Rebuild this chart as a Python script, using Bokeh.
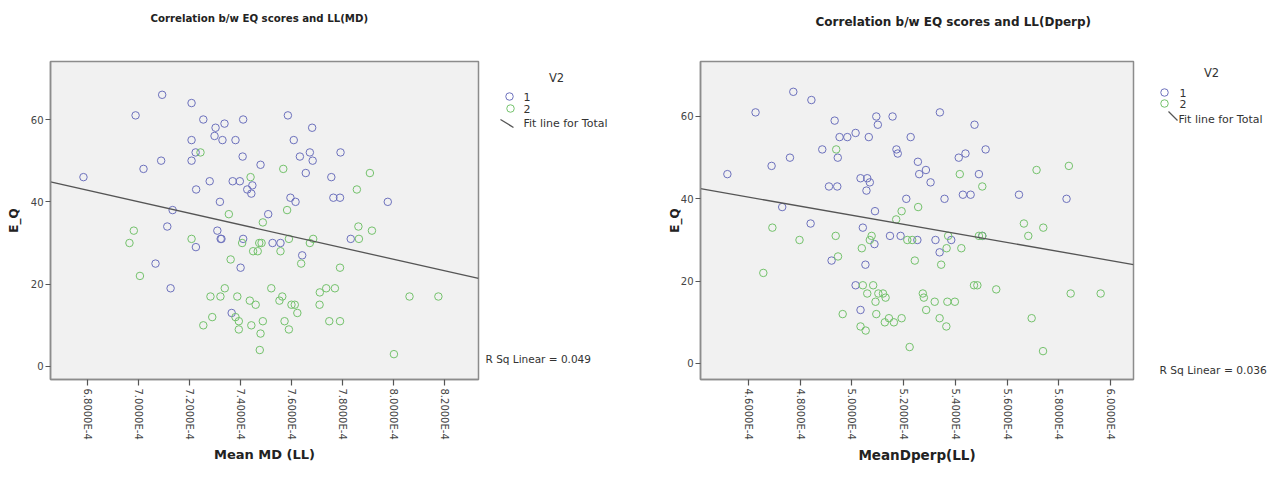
import math
from bokeh.plotting import figure
from bokeh.layouts import row
from bokeh.models import Range1d, FixedTicker, CustomJSTickFormatter, Title
from bokeh.core.properties import value
from bokeh.embed import file_html
from bokeh.resources import INLINE

# ---------------- data (x values in units of 1E-4) ----------------
# Left chart: Mean MD (LL) vs E_Q
md_g1_x = [7.094, 7.209, 6.99, 7.255, 7.411, 7.586, 7.303, 7.338, 7.681, 7.299,
           7.33, 7.381, 7.209, 7.609, 7.225, 7.672, 7.792, 7.09, 7.209, 7.409,
           7.633, 7.683, 7.021, 7.479, 7.656, 6.786, 7.28, 7.37, 7.398, 7.447,
           7.427, 7.443, 7.756, 7.227, 7.32, 7.596, 7.616, 7.764, 7.79, 7.135,
           7.509, 7.114, 7.31, 7.323, 7.326, 7.226, 7.411, 7.526, 7.557, 7.642,
           7.068, 7.832, 7.977, 7.401, 7.127, 7.366]
md_g1_y = [66, 64, 61, 60, 60, 61, 58, 59, 58, 56,
           55, 55, 55, 55, 52, 52, 52, 50, 50, 51,
           51, 50, 48, 49, 47, 46, 45, 45, 45, 44,
           43, 42, 46, 43, 40, 41, 40, 41, 41, 38,
           37, 34, 33, 31, 31, 29, 31, 30, 30, 27,
           25, 31, 40, 24, 19, 13]
md_g2_x = [7.244, 7.568, 7.856, 7.44, 7.355, 7.583, 7.488, 6.983, 6.966, 7.209,
           7.407, 7.474, 7.483, 7.45, 7.468, 7.557, 7.59, 7.672, 7.685, 7.862,
           7.864, 7.362, 7.907, 7.915, 7.638, 7.79, 7.007, 7.339, 7.521, 7.283,
           7.322, 7.388, 7.564, 7.553, 7.437, 7.46, 7.6, 7.613, 7.623, 7.711,
           7.736, 7.77, 7.71, 7.381, 7.394, 7.29, 7.255, 7.394, 7.443, 7.488,
           7.479, 7.573, 7.59, 7.748, 7.79, 7.476, 8.062, 8.175, 8.001]
md_g2_y = [52, 48, 43, 46, 37, 38, 35, 33, 30, 31,
           30, 30, 30, 28, 28, 28, 31, 30, 31, 34,
           31, 26, 47, 33, 25, 24, 22, 19, 19, 17,
           17, 17, 17, 16, 16, 15, 15, 15, 13, 18,
           19, 19, 15, 12, 11, 12, 10, 9, 10, 11,
           8, 11, 9, 11, 11, 4, 17, 17, 3]
md_fit = {"intercept": 138.04, "slope": -14.0}
md_rsq = "R Sq Linear = 0.049"

# Right chart: MeanDperp(LL) vs E_Q
dp_g1_x = [4.773, 4.843, 4.627, 4.933, 5.094, 5.1, 5.157, 5.34, 5.474, 4.952,
           4.982, 5.014, 5.065, 5.227, 4.885, 4.945, 5.172, 5.177, 4.76, 4.689,
           4.518, 5.517, 5.413, 5.439, 5.255, 5.286, 5.26, 5.491, 5.033, 5.059,
           5.069, 5.056, 4.911, 4.943, 5.304, 5.21, 5.358, 5.429, 5.459, 4.73,
           5.089, 5.646, 4.84, 5.042, 5.147, 5.188, 5.253, 5.323, 5.384, 5.087,
           5.339, 5.504, 5.83, 4.921, 5.052, 5.014, 5.033]
dp_g1_y = [66, 64, 61, 59, 60, 58, 60, 61, 58, 55,
           55, 56, 55, 55, 52, 50, 52, 51, 50, 48,
           46, 52, 50, 51, 49, 47, 46, 46, 45, 45,
           44, 42, 43, 43, 44, 40, 40, 41, 41, 38,
           37, 41, 34, 33, 31, 31, 30, 30, 30, 29,
           27, 31, 40, 25, 24, 19, 13]
dp_g2_x = [4.939, 5.417, 5.504, 5.256, 5.192, 5.171, 4.692, 4.797, 4.937, 5.076,
           5.069, 5.214, 5.233, 5.372, 5.038, 5.366, 5.423, 4.946, 5.714, 5.839,
           5.665, 5.74, 5.682, 5.491, 5.243, 5.345, 4.657, 5.042, 5.082, 5.059,
           5.102, 5.12, 5.13, 5.091, 5.274, 5.278, 5.32, 5.369, 5.398, 5.287,
           4.964, 5.094, 5.127, 5.143, 5.162, 5.192, 5.033, 5.053, 5.339, 5.365,
           5.223, 5.472, 5.485, 5.558, 5.846, 5.962, 5.695, 5.739, 5.504]
dp_g2_y = [52, 46, 43, 38, 37, 35, 33, 30, 31, 31,
           30, 30, 30, 31, 28, 28, 28, 26, 47, 48,
           34, 33, 31, 31, 25, 24, 22, 19, 19, 17,
           17, 17, 16, 15, 17, 16, 15, 15, 15, 13,
           12, 12, 10, 11, 10, 11, 9, 8, 11, 9,
           4, 19, 19, 18, 17, 17, 11, 3, 31]
dp_fit = {"intercept": 91.01, "slope": -11.0}
dp_rsq = "R Sq Linear = 0.036"

y_ticks = [0, 20, 40, 60]
md_ticks = [6.8, 7.0, 7.2, 7.4, 7.6, 7.8, 8.0, 8.2]
dp_ticks = [4.6, 4.8, 5.0, 5.2, 5.4, 5.6, 5.8, 6.0]
legend_title = "V2"
group_labels = ["1", "2"]
fit_label = "Fit line for Total"

BLUE = "#6d71bd"
GREEN = "#74c26c"
FONT = "DejaVu Sans"
H = 479
TOP = 61      # frame top (page pixels), shared by all figures of the row
BOTTOM = 379  # frame bottom


def plot_fig(width, bl, xr, yr, xticks, g1x, g1y, g2x, g2y, fit,
             title, title_size, title_offset, spacer_size,
             xlabel, xlabel_size, ylabel_standoff):
    p = figure(width=width, height=H, x_range=Range1d(*xr), y_range=Range1d(*yr),
               output_backend="svg", toolbar_location=None, title=None,
               min_border_left=bl, min_border_right=2,
               min_border_top=TOP, min_border_bottom=H - BOTTOM)
    # spacer title nearest to the frame, then the real title above it
    p.add_layout(Title(text=" ", text_font_size=spacer_size), "above")
    p.add_layout(Title(text=title, align="left", offset=title_offset,
                       text_font=FONT, text_font_size=title_size,
                       text_font_style="bold", text_color="#222222"), "above")

    p.xgrid.visible = False
    p.ygrid.visible = False
    p.background_fill_color = "#f1f1f1"
    p.border_fill_color = "white"
    p.outline_line_color = "#8c8c8c"
    p.outline_line_width = 1.5

    for ax in (p.xaxis[0], p.yaxis[0]):
        ax.axis_line_color = "#8c8c8c"
        ax.axis_line_width = 1.5
        ax.major_tick_line_color = "#555555"
        ax.major_tick_line_width = 1.2
        ax.major_tick_in = 0
        ax.minor_tick_line_color = None
        ax.major_label_text_font = FONT
        ax.major_label_text_font_size = "10px"
        ax.major_label_text_color = "#444444"
        ax.axis_label_text_font = FONT
        ax.axis_label_text_font_style = "bold"
        ax.axis_label_text_color = "#222222"

    p.xaxis.ticker = FixedTicker(ticks=xticks)
    p.xaxis.formatter = CustomJSTickFormatter(code="return tick.toFixed(4) + 'E-4';")
    p.xaxis.major_label_orientation = -math.pi / 2
    p.xaxis.major_tick_out = 6
    p.xaxis.major_label_standoff = 3
    p.xaxis.axis_label = xlabel
    p.xaxis.axis_label_text_font_size = xlabel_size
    p.xaxis.axis_label_standoff = 4

    p.yaxis.ticker = FixedTicker(ticks=y_ticks)
    p.yaxis.major_tick_out = 5
    p.yaxis.major_label_standoff = 2
    p.yaxis.axis_label = "E_Q"
    p.yaxis.axis_label_text_font_size = "12px"
    p.yaxis.axis_label_standoff = ylabel_standoff

    p.scatter(g1x, g1y, size=7.5, fill_color=None, line_color=BLUE, line_width=1)
    p.scatter(g2x, g2y, size=7.5, fill_color=None, line_color=GREEN, line_width=1)
    fx = [xr[0], xr[1]]
    fy = [fit["intercept"] + fit["slope"] * v for v in fx]
    p.line(fx, fy, line_color="#555555", line_width=1.3)
    return p


def side_fig(x0, width, v2, m1, m2, lab_x, line_pts, fit_xy, rsq, rsq_xy, rsq_size):
    # side strip (legend + R square); its ranges are the page's pixel positions
    s = figure(width=width, height=H, x_range=Range1d(x0, x0 + width),
               y_range=Range1d(BOTTOM, TOP), output_backend="svg",
               toolbar_location=None,
               min_border_left=0, min_border_right=0, min_border_top=TOP,
               min_border_bottom=H - BOTTOM, x_axis_location=None,
               y_axis_location=None)
    s.xgrid.visible = False
    s.ygrid.visible = False
    s.outline_line_color = None
    s.background_fill_color = "white"
    s.border_fill_color = "white"
    s.text([v2[0]], [v2[1]], text=[legend_title], text_font=value(FONT),
           text_font_size=value("11.5px"), text_align="center",
           text_baseline="middle", text_color="#333333")
    s.scatter([m1[0]], [m1[1]], size=7.5, fill_color=None, line_color=BLUE, line_width=1)
    s.scatter([m2[0]], [m2[1]], size=7.5, fill_color=None, line_color=GREEN, line_width=1)
    s.text([lab_x, lab_x], [m1[1] + 0.5, m2[1] + 0.5], text=group_labels,
           text_font=value(FONT), text_font_size=value("11px"), text_align="left",
           text_baseline="middle", text_color="#333333")
    s.line(line_pts[0], line_pts[1], line_color="#555555", line_width=1.3)
    s.text([fit_xy[0]], [fit_xy[1]], text=[fit_label], text_font=value(FONT),
           text_font_size=value("11px"), text_align="left", text_baseline="middle",
           text_color="#333333")
    s.text([rsq_xy[0]], [rsq_xy[1]], text=[rsq], text_font=value(FONT),
           text_font_size=value(rsq_size), text_align="left", text_baseline="middle",
           text_color="#333333")
    return s


left = plot_fig(480, 50, (6.657, 8.332), (-3.16, 74.09), md_ticks,
                md_g1_x, md_g1_y, md_g2_x, md_g2_y, md_fit,
                "Correlation b/w EQ scores and LL(MD)", "10.2px", 100, "19px",
                "Mean MD (LL)", "13px", 7)
left_side = side_fig(480, 160, (556, 77), (509, 96), (510, 108), 523,
                     ([500, 513], [119, 127]), (523, 123), md_rsq, (485, 358), "10.5px")

right = plot_fig(495, 60, (4.414, 6.089), (-3.89, 73.36), dp_ticks,
                 dp_g1_x, dp_g1_y, dp_g2_x, dp_g2_y, dp_fit,
                 "Correlation b/w EQ scores and LL(Dperp)", "12px", 115, "14px",
                 "MeanDperp(LL)", "13.5px", -4)
right_side = side_fig(1135, 144, (1211, 72), (1164, 92), (1164, 103), 1179,
                      ([1168, 1177], [111, 120]), (1178, 118.5), dp_rsq, (1159, 370), "10.7px")

layout = row(left, left_side, right, right_side)
open("out.html", "w").write(file_html(layout, INLINE))
